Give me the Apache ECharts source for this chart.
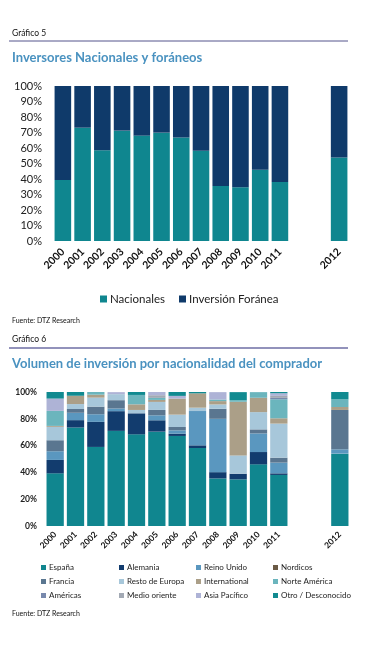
<!DOCTYPE html>
<html>
<head>
<meta charset="utf-8">
<script src="https://cdn.jsdelivr.net/npm/echarts@6/dist/echarts.min.js"></script>
<style>
html,body{margin:0;padding:0;background:#fff;}
#c{width:385px;height:648px;}
</style>
</head>
<body>
<div id="c"></div>
<script>
// ---- Chart 5 data ----
var categories = ['2000','2001','2002','2003','2004','2005','2006','2007','2008','2009','2010','2011','','','2012'];
var nacionales = [39.4, 73.1, 58.5, 71.2, 68, 69.9, 66.7, 58.3, 35.5, 34.6, 46, 38, null, null, 53.8];
var foranea    = [60.6, 26.9, 41.5, 28.8, 32, 30.1, 33.3, 41.7, 64.5, 65.4, 54, 62, null, null, 46.2];
var yTicks5 = [0,10,20,30,40,50,60,70,80,90,100];

// ---- Chart 6 data ----
var espana        = [39.3, 73.5, 59, 71, 68.4, 70.4, 67.2, 58.2, 35.5, 34.8, 46, 38.1, null, null, 54];
var alemania      = [10, 5.5, 18.7, 14.7, 15.7, 8.5, 1.7, 2, 4.7, 4.2, 9.2, 1.2, null, null, 0];
var reinoUnido    = [6.5, 5.5, 5.7, 2, 0, 3.7, 2.5, 25.6, 39.8, 0, 13.9, 8, null, null, 3.2];
var nordicos      = [0, 0, 0, 0, 0, 0, 0, 0, 0, 0, 0, 0, null, null, 0];
var francia       = [8.2, 2.8, 5.7, 6.2, 0, 4, 2.5, 0, 7.5, 0, 3, 3.7, null, null, 29.4];
var restoEuropa   = [10, 3.7, 6.7, 4.5, 2.5, 6, 9.2, 2.5, 3.2, 13.7, 12.9, 25.4, null, null, 0];
var international = [0.7, 6.2, 2.2, 0, 4.2, 1.5, 12, 10.7, 2.5, 40, 10.7, 4, null, null, 2.2];
var norteAmerica  = [11.2, 0, 2, 0, 7, 1.5, 0, 0, 1.2, 1.2, 4.2, 14.2, null, null, 5.7];
var americas      = [0, 0, 0, 0, 0, 0, 0, 0, 0, 0, 0, 1, null, null, 0];
var medioOriente  = [0, 0, 0, 0, 0, 2, 0, 0, 0, 0, 0, 1.5, null, null, 0];
var asiaPacifico  = [9.2, 0, 0, 1.5, 0, 2.4, 2, 0, 5.5, 0, 0, 2, null, null, 0];
var otro          = [5, 2.8, 0, 0, 2.2, 0, 3, 1, 0, 6, 0, 1, null, null, 5.5];
var yTicks6 = [0,20,40,60,80,100];

var names6 = ['España','Alemania','Reino Unido','Nordicos','Francia','Resto de Europa','International','Norte América','Américas','Medio oriente','Asia Pacífico','Otro / Desconocido'];
var values6 = [espana, alemania, reinoUnido, nordicos, francia, restoEuropa, international, norteAmerica, americas, medioOriente, asiaPacifico, otro];
var colors6 = ['#10868f','#123c6e','#5a97bf','#6b5a45','#5a7690','#a7c7da','#ab9f88','#6bb5bd','#7889ad','#a2a9b4','#aeb3d6','#118a90'];

var FONT = 'Lato, "Open Sans", sans-serif';
var chart = echarts.init(document.getElementById('c'), null, {renderer:'canvas'});

var series = [
  {name:'Nacionales', type:'bar', stack:'a', xAxisIndex:0, yAxisIndex:0, data:nacionales, barCategoryGap:'16%', itemStyle:{color:'#0f868f'}},
  {name:'Inversión Foránea', type:'bar', stack:'a', xAxisIndex:0, yAxisIndex:0, data:foranea, barCategoryGap:'16%', itemStyle:{color:'#0f3a6a'}}
];
for (var i=0;i<names6.length;i++){
  series.push({name:names6[i], type:'bar', stack:'b', xAxisIndex:1, yAxisIndex:1, data:values6[i], barCategoryGap:'15%', itemStyle:{color:colors6[i]}});
}

function colLegend(left, items){
  return {orient:'vertical', left:left, top:563, padding:0, itemWidth:5, itemHeight:5, itemGap:5, icon:'rect',
    textStyle:{fontFamily:FONT, fontSize:8, color:'#222', padding:[0,0,0,-2], lineHeight:9}, data:items, selectedMode:false};
}
function ttl(text, top, size, bold, color){
  return {text:text, left:12, top:top, padding:0, textStyle:{fontFamily:FONT, fontSize:size, fontWeight:bold?'bold':'normal', color:color}};
}

var option = {
  animation:false,
  textStyle:{fontFamily:FONT},
  title:[
    ttl('Gráfico 5', 28.5, 8.5, false, '#111'),
    ttl('Inversores Nacionales y foráneos', 51, 13, true, '#4a92c0'),
    ttl('Fuente: DTZ Research', 317, 7, false, '#111'),
    ttl('Gráfico 6', 335, 8.5, false, '#111'),
    ttl('Volumen de inversión por nacionalidad del comprador', 357.5, 13, true, '#4a92c0'),
    ttl('Fuente: DTZ Research', 610, 7, false, '#111')
  ],
  graphic:[
    {type:'line', shape:{x1:9, y1:41, x2:348, y2:41}, style:{stroke:'#54548c', lineWidth:1}},
    {type:'line', shape:{x1:9, y1:348, x2:348, y2:348}, style:{stroke:'#6e6ea4', lineWidth:1.5}}
  ],
  legend:[
    {left:100, top:293, padding:0, itemWidth:7, itemHeight:7, itemGap:14, icon:'rect', selectedMode:false,
      textStyle:{fontFamily:FONT, fontSize:11.5, color:'#222', padding:[0,0,0,-2]}, data:['Nacionales','Inversión Foránea']},
    colLegend(41, ['España','Francia','Américas']),
    colLegend(119, ['Alemania','Resto de Europa','Medio oriente']),
    colLegend(196, ['Reino Unido','International','Asia Pacífico']),
    colLegend(273, ['Nordicos','Norte América','Otro / Desconocido'])
  ],
  grid:[
    {left:53, right:36, top:86, height:155},
    {left:45, right:35, top:392, height:134}
  ],
  xAxis:[
    {type:'category', gridIndex:0, data:categories, axisLine:{show:false}, axisTick:{show:false},
      axisLabel:{interval:0, rotate:45, margin:9, fontFamily:FONT, fontSize:10.5, fontWeight:'bold', color:'#111'}},
    {type:'category', gridIndex:1, data:categories, axisLine:{show:false}, axisTick:{show:false},
      axisLabel:{interval:0, rotate:45, margin:7, fontFamily:FONT, fontSize:8.5, fontWeight:'bold', color:'#111'}}
  ],
  yAxis:[
    {type:'value', gridIndex:0, min:yTicks5[0], max:yTicks5[yTicks5.length-1], interval:yTicks5[1]-yTicks5[0],
      splitLine:{show:false}, axisLine:{show:false}, axisTick:{show:false},
      axisLabel:{formatter:'{value}%', margin:11, fontFamily:FONT, fontSize:11, color:'#222'}},
    {type:'value', gridIndex:1, min:yTicks6[0], max:yTicks6[yTicks6.length-1], interval:yTicks6[1]-yTicks6[0],
      splitLine:{show:false}, axisLine:{show:false}, axisTick:{show:false},
      axisLabel:{formatter:'{value}%', margin:8, fontFamily:FONT, fontSize:8.5, fontWeight:'bold', color:'#222'}}
  ],
  series:series
};
chart.setOption(option);
</script>
</body>
</html>
